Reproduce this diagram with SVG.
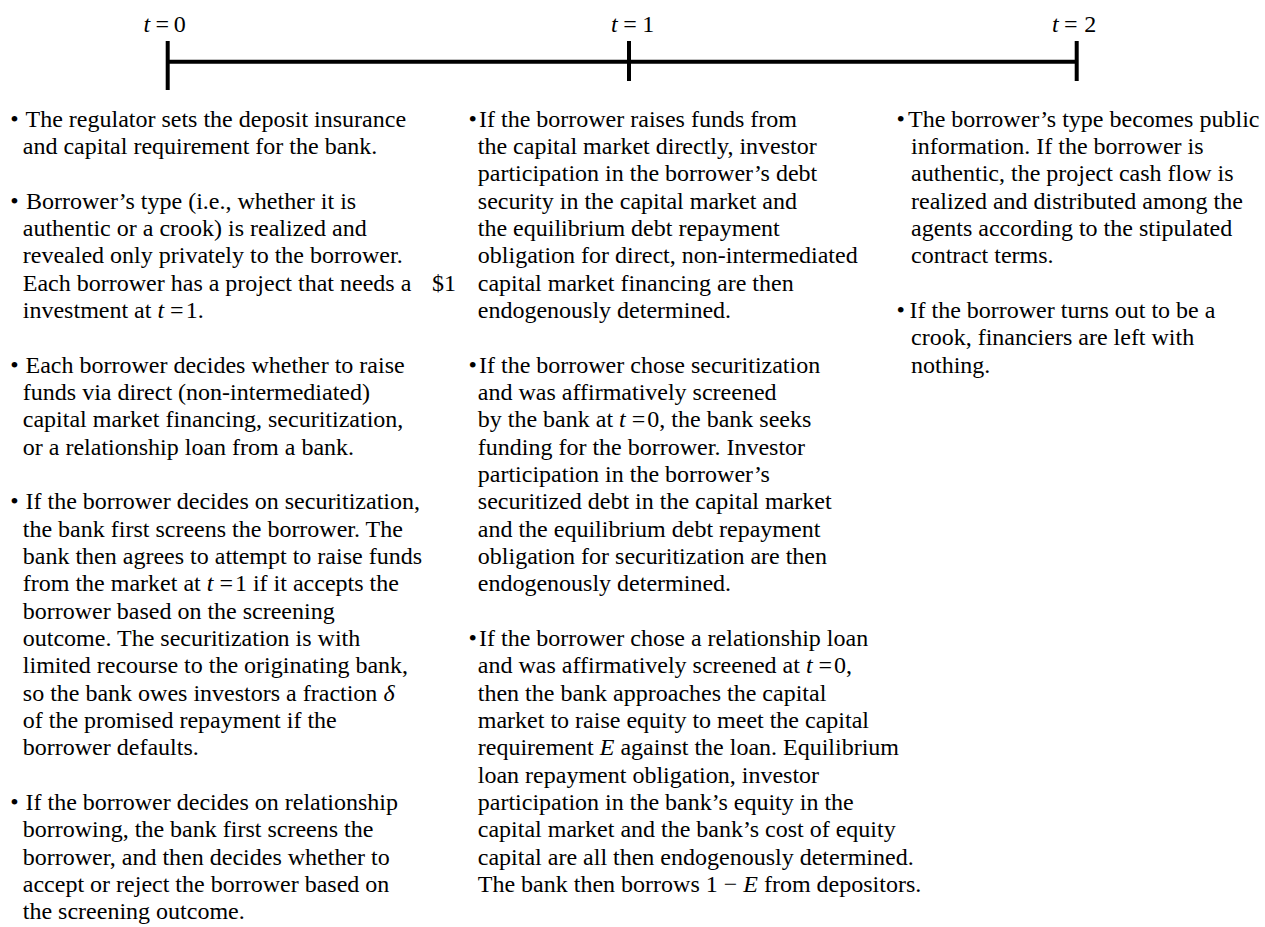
<svg xmlns="http://www.w3.org/2000/svg" width="1265" height="927" viewBox="0 0 1265 927">
<style>
text{font-family:"Liberation Serif","Times New Roman",serif;font-size:24px;fill:#000}
.i{font-style:italic}
.tl{stroke:#000;stroke-width:4;fill:none}
</style>
<rect width="1265" height="927" fill="#fff"/>
<g id="timeline">
<line class="tl" x1="167.7" y1="61.7" x2="1076.7" y2="61.7"/>
<line class="tl" x1="167.7" y1="41" x2="167.7" y2="90"/>
<line class="tl" x1="629" y1="41" x2="629" y2="81"/>
<line class="tl" x1="1076.7" y1="41" x2="1076.7" y2="81"/>
</g>
<g id="label-t0"><text y="32"><tspan class="i" x="143.5">t</tspan><tspan x="155.5">=</tspan><tspan x="173.7">0</tspan></text></g>
<g id="label-t1"><text y="32"><tspan class="i" x="611">t</tspan><tspan x="623.2">=</tspan><tspan x="642.3">1</tspan></text></g>
<g id="label-t2"><text y="32"><tspan class="i" x="1052">t</tspan><tspan x="1064">=</tspan><tspan x="1084.3">2</tspan></text></g>
<g id="connectors"></g>

<g id="c1p1">
<text x="10.3" y="126.7">•</text>
<text x="25.5" y="126.7">The regulator sets the deposit insurance</text>
<text x="22.8" y="154">and capital requirement for the bank.</text>
</g>
<g id="c1p2">
<text x="10.3" y="208.7">•</text>
<text x="26" y="208.7">Borrower’s type (i.e., whether it is</text>
<text x="22.8" y="236">authentic or a crook) is realized and</text>
<text x="22.8" y="263.4">revealed only privately to the borrower.</text>
<text x="22.8" y="290.7">Each borrower has a project that needs a</text>
<text x="432" y="290.7">$1</text>
<text x="22.8" y="318">investment at <tspan class="i">t</tspan> =<tspan dx="2">1.</tspan></text>
</g>
<g id="c1p3">
<text x="10.3" y="372.7">•</text>
<text x="25.5" y="372.7">Each borrower decides whether to raise</text>
<text x="22.8" y="400">funds via direct (non-intermediated)</text>
<text x="22.8" y="427.3">capital market financing, securitization,</text>
<text x="22.8" y="454.7">or a relationship loan from a bank.</text>
</g>
<g id="c1p4">
<text x="10.3" y="509.3">•</text>
<text x="25.5" y="509.3">If the borrower decides on securitization,</text>
<text x="22.8" y="536.7">the bank first screens the borrower. The</text>
<text x="22.8" y="564">bank then agrees to attempt to raise funds</text>
<text x="22.8" y="591.3">from the market at <tspan class="i">t</tspan> =<tspan dx="2">1 if it accepts the</tspan></text>
<text x="22.8" y="618.6">borrower based on the screening</text>
<text x="22.8" y="646">outcome. The securitization is with</text>
<text x="22.8" y="673.3">limited recourse to the originating bank,</text>
<text x="22.8" y="700.6">so the bank owes investors a fraction <tspan class="i">δ</tspan></text>
<text x="22.8" y="728">of the promised repayment if the</text>
<text x="22.8" y="755.3">borrower defaults.</text>
</g>
<g id="c1p5">
<text x="10.3" y="810">•</text>
<text x="25.5" y="810">If the borrower decides on relationship</text>
<text x="22.8" y="837.3">borrowing, the bank first screens the</text>
<text x="22.8" y="864.6">borrower, and then decides whether to</text>
<text x="22.8" y="892">accept or reject the borrower based on</text>
<text x="22.8" y="919.3">the screening outcome.</text>
</g>

<g id="c2p1">
<text x="468.6" y="126.7">•</text>
<text x="479" y="126.7">If the borrower raises funds from</text>
<text x="477.8" y="154">the capital market directly, investor</text>
<text x="477.8" y="181.4">participation in the borrower’s debt</text>
<text x="477.8" y="208.7">security in the capital market and</text>
<text x="477.8" y="236">the equilibrium debt repayment</text>
<text x="477.8" y="263.4">obligation for direct, non-intermediated</text>
<text x="477.8" y="290.7">capital market financing are then</text>
<text x="477.8" y="318">endogenously determined.</text>
</g>
<g id="c2p2">
<text x="468.6" y="372.7">•</text>
<text x="479" y="372.7">If the borrower chose securitization</text>
<text x="477.8" y="400">and was affirmatively screened</text>
<text x="477.8" y="427.3">by the bank at <tspan class="i">t</tspan> =<tspan dx="2">0, the bank seeks</tspan></text>
<text x="477.8" y="454.7">funding for the borrower. Investor</text>
<text x="477.8" y="482">participation in the borrower’s</text>
<text x="477.8" y="509.3">securitized debt in the capital market</text>
<text x="477.8" y="536.7">and the equilibrium debt repayment</text>
<text x="477.8" y="564">obligation for securitization are then</text>
<text x="477.8" y="591.3">endogenously determined.</text>
</g>
<g id="c2p3">
<text x="468.6" y="646">•</text>
<text x="479" y="646">If the borrower chose a relationship loan</text>
<text x="477.8" y="673.3">and was affirmatively screened at  <tspan class="i">t</tspan> =<tspan dx="2">0,</tspan></text>
<text x="477.8" y="700.6">then the bank approaches the capital</text>
<text x="477.8" y="728">market to raise equity to meet the capital</text>
<text x="477.8" y="755.3">requirement <tspan class="i">E</tspan> against the loan. Equilibrium</text>
<text x="477.8" y="782.6">loan repayment obligation, investor</text>
<text x="477.8" y="810">participation in the bank’s equity in the</text>
<text x="477.8" y="837.3">capital market and the bank’s cost of equity</text>
<text x="477.8" y="864.6">capital are all then endogenously determined.</text>
<text x="477.8" y="892">The bank then borrows 1 − <tspan class="i">E</tspan> from depositors.</text>
</g>

<g id="c3p1">
<text x="896.6" y="126.7">•</text>
<text x="908" y="126.7">The borrower’s type becomes public</text>
<text x="911" y="154">information. If the borrower is</text>
<text x="911" y="181.4">authentic, the project cash flow is</text>
<text x="911" y="208.7">realized and distributed among the</text>
<text x="911" y="236">agents according to the stipulated</text>
<text x="911" y="263.4">contract terms.</text>
</g>
<g id="c3p2">
<text x="896.6" y="318">•</text>
<text x="909.5" y="318">If the borrower turns out to be a</text>
<text x="911" y="345.3">crook, financiers are left with</text>
<text x="911" y="372.7">nothing.</text>
</g>
</svg>
